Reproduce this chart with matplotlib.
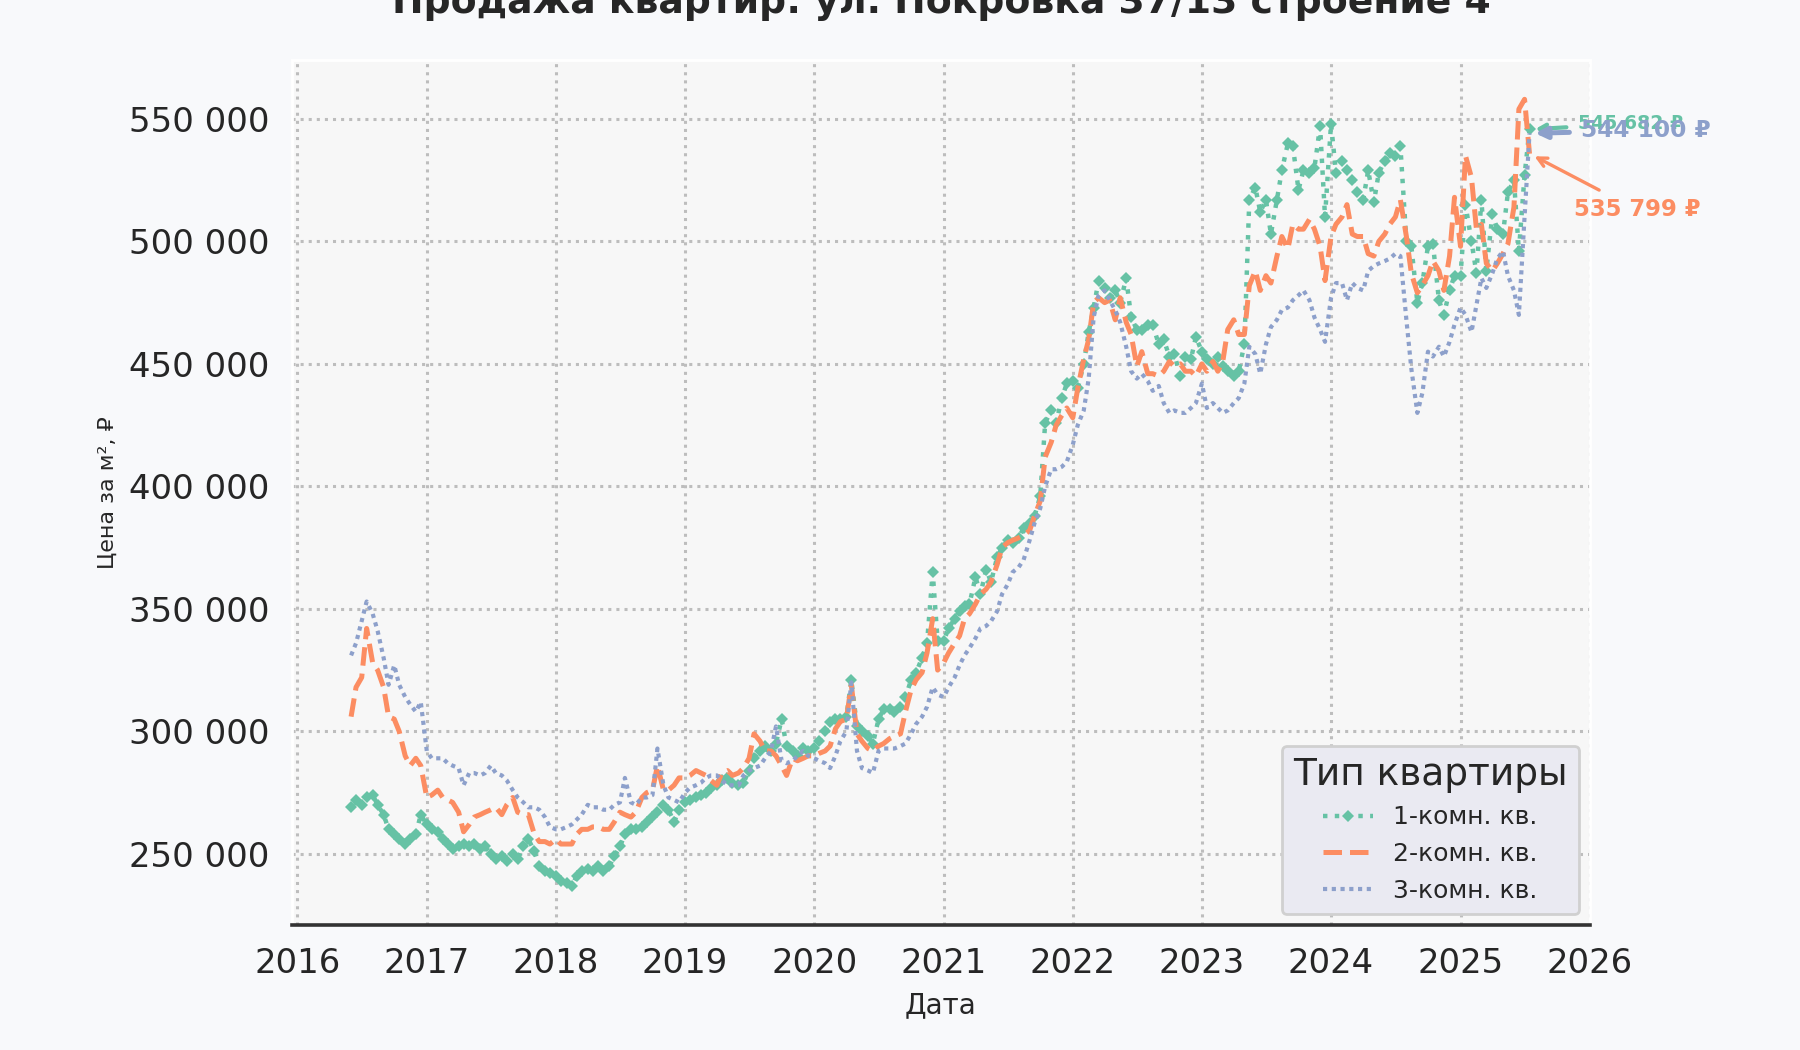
import matplotlib
matplotlib.use("Agg")
import matplotlib.pyplot as plt
import matplotlib.dates as mdates
from matplotlib.ticker import FuncFormatter, MultipleLocator
import numpy as np
import pandas as pd

# ---------------- data ----------------
title = "Продажа квартир: ул. Покровка 37/13 строение 4"
legend_title = "Тип квартиры"
series_labels = ["1-комн. кв.", "2-комн. кв.", "3-комн. кв."]
x_label = "Дата"
y_label = "Цена за м², ₽"

# observation dates: 1st and 15th of each month, Jun 2016 .. mid Jul 2025
dates = pd.date_range("2016-06-01", "2025-07-15", freq="SMS")

# price per m2, thousand roubles
one_room_k = [
    269, 272, 270, 273, 274, 270, 266, 260, 258, 256, 254, 256, 258, 266,  # 2016
    262, 260, 259, 256, 254, 252, 253, 254, 253, 254, 252, 253,
    250, 248, 249, 247, 250, 248, 253, 256, 251, 245, 243, 242,  # 2017
    241, 239, 238, 237, 241, 243, 244, 243, 245, 243, 245, 249,
    253, 258, 260, 260, 261, 263, 265, 267, 270, 268, 263, 268,  # 2018
    271, 272, 273, 274, 275, 277, 278, 280, 281, 279, 278, 279,
    284, 289, 292, 294, 292, 295, 305, 294, 292, 290, 293, 292,  # 2019
    293, 296, 300, 304, 305, 305, 306, 321, 302, 300, 298, 295,
    305, 309, 309, 308, 310, 314, 321, 324, 330, 336, 365, 337,  # 2020
    337, 342, 346, 349, 351, 352, 363, 356, 366, 361, 371, 375,
    378, 377, 379, 383, 385, 388, 396, 426, 431, 426, 436, 442,  # 2021
    443, 440, 450, 463, 473, 484, 481, 477, 480, 475, 485, 469,
    464, 464, 466, 466, 458, 460, 453, 454, 445, 453, 452, 461,  # 2022
    455, 452, 450, 453, 449, 447, 445, 447, 458, 517, 522, 512,
    517, 503, 517, 529, 540, 539, 521, 529, 528, 530, 547, 510,  # 2023
    548, 528, 533, 529, 525, 520, 517, 529, 516, 528, 533, 536,
    535, 539, 500, 498, 475, 483, 498, 499, 476, 470, 480, 486,  # 2024
    486, 515, 500, 487, 517, 488, 511, 505, 503, 520, 525, 496, 527, 545.682,  # 2025
]
two_room_k = [
    306, 318, 322, 342, 328, 325, 318, 306, 305, 300, 290, 286, 289, 286,  # 2016
    273, 274, 276, 273, 272, 271, 267, 259, 262, 265, 266, 267,
    268, 269, 266, 270, 273, 267, 266, 266, 258, 255, 255, 254,  # 2017
    256, 254, 254, 254, 258, 260, 260, 261, 261, 260, 260, 263,
    267, 266, 265, 267, 273, 275, 276, 286, 276, 276, 278, 281,  # 2018
    281, 282, 284, 283, 282, 280, 278, 283, 284, 282, 283, 285,
    289, 299, 296, 292, 292, 290, 286, 282, 289, 288, 289, 290,  # 2019
    290, 291, 292, 294, 301, 304, 305, 319, 299, 296, 293, 292,
    294, 295, 297, 298, 299, 308, 317, 321, 324, 332, 346, 325,  # 2020
    328, 332, 336, 339, 346, 348, 352, 356, 358, 361, 368, 375,
    377, 378, 379, 380, 382, 388, 394, 412, 418, 425, 429, 432,  # 2021
    428, 440, 452, 460, 475, 477, 475, 476, 468, 477, 467, 462,
    449, 455, 446, 446, 445, 447, 451, 449, 450, 447, 447, 445,  # 2022
    450, 447, 451, 447, 451, 464, 468, 462, 462, 482, 488, 480,
    486, 483, 494, 502, 497, 507, 505, 505, 509, 505, 498, 484,  # 2023
    502, 507, 510, 515, 503, 502, 502, 495, 494, 500, 503, 507,
    510, 517, 502, 487, 479, 482, 486, 492, 488, 480, 494, 518,  # 2024
    498, 535, 526, 505, 507, 491, 488, 491, 495, 499, 514, 554, 558, 535.799,  # 2025
]
three_room_k = [
    331, 336, 345, 353, 348, 341, 330, 319, 327, 319, 314, 311, 308, 312,  # 2016
    292, 289, 289, 289, 287, 286, 285, 278, 283, 283, 282, 283,
    286, 283, 282, 280, 276, 273, 271, 269, 269, 268, 265, 261,  # 2017
    260, 260, 261, 262, 264, 266, 270, 269, 269, 268, 268, 270,
    271, 281, 271, 270, 273, 273, 274, 293, 278, 273, 272, 271,  # 2018
    275, 277, 278, 279, 281, 282, 282, 280, 278, 278, 278, 282,
    284, 285, 286, 289, 292, 302, 288, 287, 288, 290, 292, 290,  # 2019
    289, 288, 287, 285, 290, 296, 300, 320, 292, 285, 284, 283,
    292, 293, 293, 293, 294, 295, 299, 303, 306, 310, 318, 315,  # 2020
    314, 318, 322, 327, 331, 334, 338, 342, 343, 345, 349, 356,
    360, 365, 367, 370, 378, 385, 391, 400, 407, 407, 408, 410,  # 2021
    417, 425, 431, 444, 469, 478, 480, 476, 472, 467, 457, 447,
    444, 446, 443, 439, 441, 434, 430, 431, 430, 430, 432, 434,  # 2022
    442, 432, 434, 432, 430, 431, 434, 436, 442, 457, 454, 446,
    458, 465, 468, 472, 473, 476, 478, 480, 476, 469, 464, 459,  # 2023
    477, 483, 483, 476, 483, 481, 480, 488, 490, 491, 492, 493,
    495, 494, 468, 448, 430, 438, 455, 453, 457, 453, 459, 466,  # 2024
    473, 470, 463, 474, 485, 481, 487, 493, 496, 486, 480, 470, 510, 544.1,  # 2025
]

for s in (one_room_k, two_room_k, three_room_k):
    assert len(s) == len(dates), (len(s), len(dates))

one_room = np.array(one_room_k) * 1000
two_room = np.array(two_room_k) * 1000
three_room = np.array(three_room_k) * 1000

# ---------------- style ----------------
colors = ["#66c2a5", "#fc8d62", "#8da0cb"]
fig_bg = "#f8f9fb"
ax_bg = "#f7f7f7"
text_col = "#262626"

fig = plt.figure(figsize=(9, 5.25), dpi=200, facecolor=fig_bg)
left, bottom, right, top = 292 / 1800, 1 - 925 / 1050, 1590 / 1800, 1 - 60 / 1050
ax = fig.add_axes([left, bottom, right - left, top - bottom])
ax.set_facecolor(ax_bg)

ax.plot(dates, one_room, color=colors[0], ls=":", lw=1.6, marker="D", ms=3.2,
        mew=0, label=series_labels[0])
ax.plot(dates, two_room, color=colors[1], ls="--", lw=1.8, label=series_labels[1])
ax.plot(dates, three_room, color=colors[2], ls=(0, (1, 1.1)), lw=1.5,
        label=series_labels[2])

ax.set_xlim(pd.Timestamp("2015-12-17"), pd.Timestamp("2026-01-02"))

ax.grid(True, ls=":", color="#bdbdbd", lw=1.1)
ax.set_axisbelow(True)

for side in ("left", "top", "right"):
    ax.spines[side].set_color("white")
    ax.spines[side].set_linewidth(1.0)
ax.spines["bottom"].set_color("#333333")
ax.spines["bottom"].set_linewidth(1.3)

ax.xaxis.set_major_locator(mdates.YearLocator())
ax.xaxis.set_major_formatter(mdates.DateFormatter("%Y"))
ax.yaxis.set_major_locator(MultipleLocator(50000))
ax.yaxis.set_major_formatter(FuncFormatter(lambda v, p: f"{int(round(v)):,}".replace(",", " ")))
ax.tick_params(length=0, pad=8, labelsize=12.2, colors=text_col)

ax.set_xlabel(x_label, fontsize=10, color=text_col, labelpad=4)
ax.set_ylabel(y_label, fontsize=8, color=text_col, labelpad=4)

leg = ax.legend(title=legend_title, loc="lower right", fontsize=9,
                title_fontsize=13.5, frameon=True, facecolor="#eaeaf2",
                edgecolor="#d0d0d0", framealpha=1, labelspacing=0.5,
                borderaxespad=0.45, borderpad=0.45)
leg.get_frame().set_linewidth(1.0)
for t in leg.get_texts():
    t.set_color(text_col)
leg.get_title().set_color(text_col)

# end-value annotations
ann = [
    (one_room[-1], colors[0], 6.8, (48, 6), "->", 1.5),
    (three_room[-1], colors[2], 8.4, (51, 3), "-|>", 1.8),
    (two_room[-1], colors[1], 8.2, (44, -56), "->", 1.2),
]
for val, col, fs, off, style, lw in ann:
    ax.annotate(f"{int(round(val)):,} ₽".replace(",", " "),
                xy=(dates[-1], val), xytext=off, textcoords="offset pixels",
                ha="left", va="center", fontsize=fs, fontweight="bold", color=col,
                arrowprops=dict(arrowstyle=style, color=col, lw=lw))

fig.text((left + right) / 2, 1 - 13 / 1050, title, ha="center", va="baseline",
         fontsize=13.6, fontweight="bold", color=text_col)

fig.savefig("out.png", dpi=200, facecolor=fig.get_facecolor())
